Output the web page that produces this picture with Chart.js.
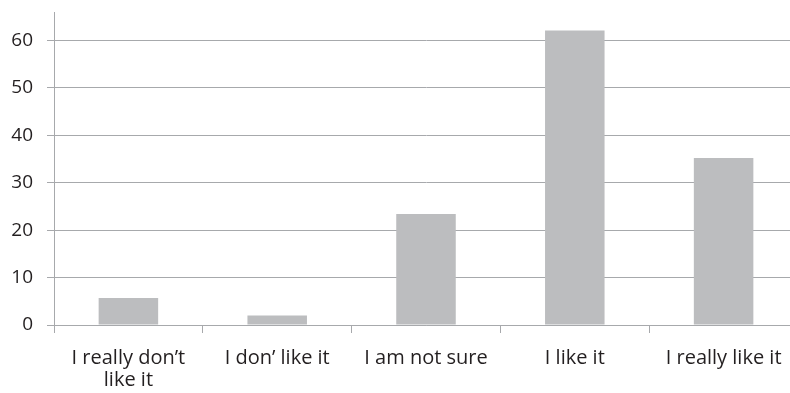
<!DOCTYPE html>
<html>
<head>
<meta charset="utf-8">
<script src="https://cdn.jsdelivr.net/npm/chart.js@4.4.1/dist/chart.umd.min.js"></script>
<style>
  html, body { margin: 0; padding: 0; background: #ffffff; overflow: hidden; }
  #wrap { position: relative; width: 798px; height: 393px; }
</style>
</head>
<body>
<div id="wrap"><canvas id="c" width="798" height="393"></canvas></div>
<script>
// Survey answers and share of respondents
const categories = [
  ["I really don\u2019t", "like it"],
  "I don\u2019 like it",
  "I am not sure",
  "I like it",
  "I really like it"
];
const responses = [5.7, 2.0, 23.4, 62.1, 35.2];
const yTicks = [0, 10, 20, 30, 40, 50, 60];

const FAMILY = "'Open Sans', 'Noto Sans', sans-serif";
const AXIS = '#a7a9ac';
const TEXT = '#231f20';

new Chart(document.getElementById('c'), {
  type: 'bar',
  data: {
    labels: categories,
    datasets: [{
      data: responses,
      backgroundColor: '#bcbdbf',
      borderWidth: 0,
      barPercentage: 0.4,
      categoryPercentage: 1.0
    }]
  },
  options: {
    responsive: false,
    animation: false,
    devicePixelRatio: 1,
    layout: { padding: 0 },
    plugins: { legend: { display: false }, tooltip: { enabled: false } },
    scales: {
      x: {
        offset: true,
        grid: {
          offset: true,
          drawOnChartArea: false,
          color: AXIS,
          tickLength: 8
        },
        border: { color: AXIS, width: 1 },
        ticks: {
          color: TEXT,
          font: { family: FAMILY, size: 20, lineHeight: 1.1 },
          padding: 14,
          maxRotation: 0,
          autoSkip: false
        },
        afterFit(scale) { scale.height = 68; }
      },
      y: {
        min: 0,
        max: 66,
        afterBuildTicks(scale) {
          scale.ticks = yTicks.map(v => ({ value: v }));
        },
        grid: { color: AXIS, tickLength: 7 },
        border: { color: AXIS, width: 1 },
        ticks: {
          color: TEXT,
          font: { family: FAMILY, size: 19 },
          padding: 14
        },
        afterFit(scale) {
          scale.width = 54;
          scale.paddingTop = 12;
        }
      }
    }
  }
});
</script>
</body>
</html>
